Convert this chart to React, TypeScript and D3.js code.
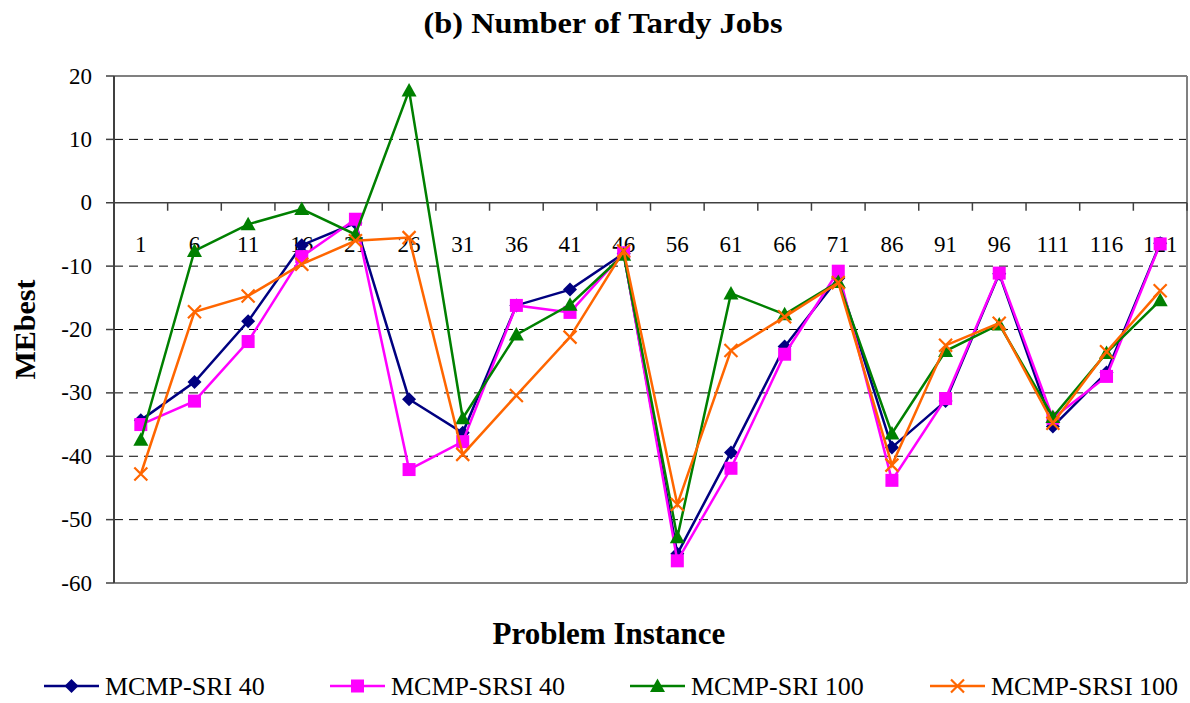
import React from 'react';
import * as d3 from 'd3';

const categories = ['1', '6', '11', '16', '21', '26', '31', '36', '41', '46', '56', '61', '66', '71', '86', '91', '96', '111', '116', '121'];

const sri40 = [-34.3, -28.3, -18.7, -6.7, -3.2, -31.0, -36.3, -16.2, -13.7, -8.0, -55.4, -39.4, -22.7, -11.9, -38.6, -31.3, -11.2, -35.3, -26.8, -6.4];
const srsi40 = [-35.0, -31.3, -21.9, -8.5, -2.6, -42.1, -37.7, -16.2, -17.3, -7.9, -56.5, -41.9, -23.9, -10.8, -43.8, -30.9, -11.1, -34.0, -27.4, -6.5];
const sri100 = [-37.4, -7.6, -3.4, -1.0, -5.0, 17.7, -34.0, -20.8, -16.1, -8.2, -52.8, -14.3, -17.6, -12.5, -36.4, -23.4, -19.2, -33.8, -23.7, -15.4];
const srsi100 = [-42.8, -17.2, -14.7, -9.7, -6.0, -5.5, -39.7, -30.4, -21.2, -7.6, -47.6, -23.3, -18.0, -12.6, -41.4, -22.5, -19.0, -34.8, -23.5, -13.9];

const yTicks = [20, 10, 0, -10, -20, -30, -40, -50, -60];

const seriesNames = ['MCMP-SRI 40', 'MCMP-SRSI 40', 'MCMP-SRI 100', 'MCMP-SRSI 100'];
const seriesColors = ['#000080', '#FF00FF', '#008000', '#FF6600'];
const seriesMarkers = ['diamond', 'square', 'triangle', 'cross'];
const seriesData = [sri40, srsi40, sri100, srsi100];

const W = 1190;
const H = 703;
const left = 114;
const right = 1187;
const top = 76;
const bottom = 583;
const serif = '"Liberation Serif", "Times New Roman", serif';

function Marker({ kind, x, y, color }: { kind: string; x: number; y: number; color: string }) {
  if (kind === 'diamond') {
    const s = 7;
    return <path d={`M${x},${y - s}L${x + s},${y}L${x},${y + s}L${x - s},${y}Z`} fill={color} />;
  }
  if (kind === 'square') {
    const s = 6.5;
    return <rect x={x - s} y={y - s} width={s * 2} height={s * 2} fill={color} />;
  }
  if (kind === 'triangle') {
    const s = 7.5;
    return <path d={`M${x},${y - s}L${x + s},${y + s * 0.8}L${x - s},${y + s * 0.8}Z`} fill={color} />;
  }
  const s = 6.5;
  return (
    <path
      d={`M${x - s},${y - s}L${x + s},${y + s}M${x - s},${y + s}L${x + s},${y - s}`}
      stroke={color}
      strokeWidth={2.2}
      fill="none"
    />
  );
}

export default function App() {
  const x = d3.scaleBand<string>().domain(categories).range([left, right]);
  const y = d3.scaleLinear().domain([-60, 20]).range([bottom, top]);
  const cx = (i: number) => (x(categories[i]) as number) + x.bandwidth() / 2;
  const line = d3
    .line<number>()
    .x((_, i) => cx(i))
    .y((d) => y(d));

  const y0 = y(0);
  const legendX = [44, 330, 630, 930];
  const legendY = 686;

  return (
    <svg width={W} height={H} style={{ position: 'absolute', left: 0, top: 0 }} fontFamily={serif}>
      <rect width={W} height={H} fill="#fff" />

      {/* title */}
      <text x={603} y={33} textAnchor="middle" fontSize={30} fontWeight="bold" textLength={359} lengthAdjust="spacingAndGlyphs">
        (b) Number of Tardy Jobs
      </text>

      {/* gridlines */}
      {yTicks
        .filter((t) => t !== 0 && t !== 20 && t !== -60)
        .map((t) => (
          <line key={t} x1={left} x2={right} y1={y(t)} y2={y(t)} stroke="#000" strokeWidth={1} strokeDasharray="9,6" />
        ))}

      {/* plot frame */}
      <line x1={left} x2={right} y1={top} y2={top} stroke="#808080" strokeWidth={2} />
      <line x1={right} x2={right} y1={top} y2={bottom} stroke="#808080" strokeWidth={2} />
      <line x1={left} x2={right} y1={bottom} y2={bottom} stroke="#808080" strokeWidth={2} />

      {/* y axis */}
      <line x1={left} x2={left} y1={top} y2={bottom} stroke="#404040" strokeWidth={2} />
      {yTicks.map((t) => (
        <g key={t}>
          <line x1={left - 8} x2={left} y1={y(t)} y2={y(t)} stroke="#404040" strokeWidth={1.5} />
          <text x={92} y={y(t) + 7.5} textAnchor="end" fontSize={23}>
            {t}
          </text>
        </g>
      ))}

      {/* x axis at zero */}
      <line x1={left} x2={right} y1={y0} y2={y0} stroke="#404040" strokeWidth={1.5} />
      {categories.map((c) => (
        <line key={`t${c}`} x1={x(c) as number} x2={x(c) as number} y1={y0} y2={y0 + 8} stroke="#404040" strokeWidth={1.5} />
      ))}
      <line x1={right} x2={right} y1={y0} y2={y0 + 8} stroke="#404040" strokeWidth={1.5} />
      {categories.map((c, i) => (
        <text key={`l${c}`} x={cx(i)} y={y0 + 49} textAnchor="middle" fontSize={23}>
          {c}
        </text>
      ))}

      {/* series */}
      {seriesData.map((d, si) => (
        <g key={seriesNames[si]}>
          <path d={line(d) as string} fill="none" stroke={seriesColors[si]} strokeWidth={2.5} />
          {d.map((v, i) => (
            <Marker key={i} kind={seriesMarkers[si]} x={cx(i)} y={y(v)} color={seriesColors[si]} />
          ))}
        </g>
      ))}

      {/* axis titles */}
      <text
        transform={`translate(35,${(top + bottom) / 2}) rotate(-90)`}
        textAnchor="middle"
        fontSize={30}
        fontWeight="bold"
      >
        MEbest
      </text>
      <text x={609} y={644} textAnchor="middle" fontSize={31} fontWeight="bold">
        Problem Instance
      </text>

      {/* legend */}
      {seriesNames.map((n, i) => (
        <g key={n}>
          <line x1={legendX[i]} x2={legendX[i] + 55} y1={legendY} y2={legendY} stroke={seriesColors[i]} strokeWidth={2.5} />
          <Marker kind={seriesMarkers[i]} x={legendX[i] + 27.5} y={legendY} color={seriesColors[i]} />
          <text x={legendX[i] + 61} y={legendY + 9} fontSize={26}>
            {n}
          </text>
        </g>
      ))}
    </svg>
  );
}
